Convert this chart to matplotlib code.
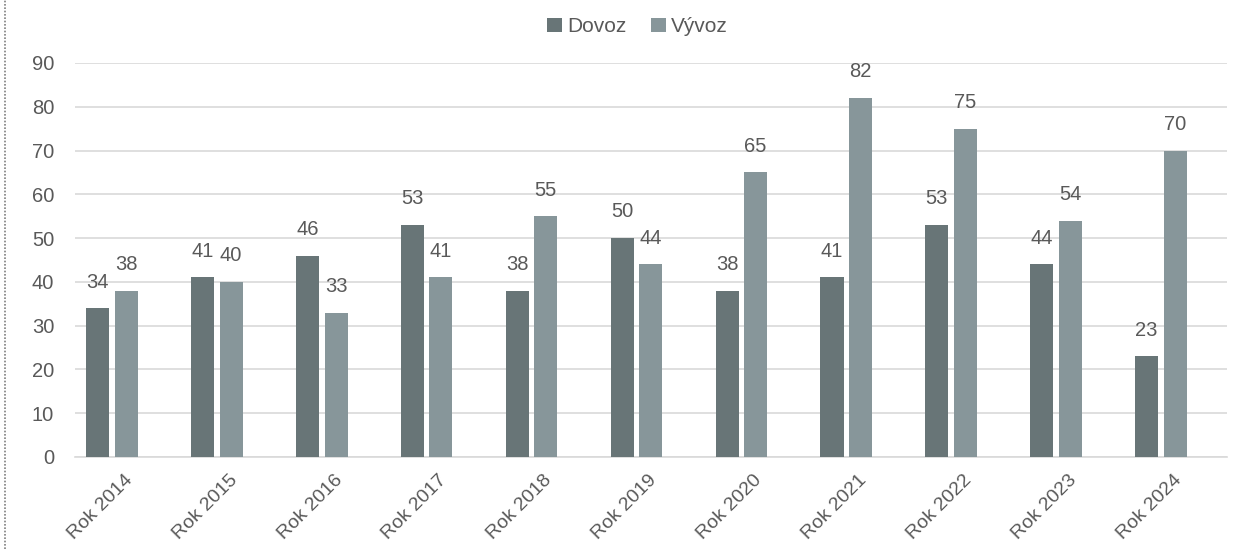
import numpy as np
import matplotlib.pyplot as plt
from matplotlib.lines import Line2D

# data
years = ['Rok 2014', 'Rok 2015', 'Rok 2016', 'Rok 2017', 'Rok 2018', 'Rok 2019',
         'Rok 2020', 'Rok 2021', 'Rok 2022', 'Rok 2023', 'Rok 2024']
dovoz = [34, 41, 46, 53, 38, 50, 38, 41, 53, 44, 23]
vyvoz = [38, 40, 33, 41, 55, 44, 65, 82, 75, 54, 70]

c_dovoz = '#687577'
c_vyvoz = '#87969a'
txt = '#595959'

plt.rcParams['font.family'] = ['Liberation Sans', 'DejaVu Sans']

fig = plt.figure(figsize=(12.5, 5.49), dpi=100)
ax = fig.add_axes([0.06, 0.1676, 0.9216, 0.7177])

x = np.arange(len(years))
w = 0.22
off = 0.136
b1 = ax.bar(x - off, dovoz, w, color=c_dovoz, label='Dovoz', zorder=3)
b2 = ax.bar(x + off, vyvoz, w, color=c_vyvoz, label='Vývoz', zorder=3)

for bars, vals in [(b1, dovoz), (b2, vyvoz)]:
    for b, v in zip(bars, vals):
        ax.text(b.get_x() + b.get_width() / 2, v + 3.8, str(v),
                ha='center', va='bottom', fontsize=14.5, color=txt)

ax.set_ylim(0, 90)
ax.set_xlim(-0.353, len(years) - 1 + 0.63)
ax.set_yticks(range(0, 91, 10))
ax.yaxis.grid(True, color='#d9d9d9', linewidth=1.2, zorder=0)
ax.set_axisbelow(True)
for s in ['top', 'right', 'left']:
    ax.spines[s].set_visible(False)
ax.spines['bottom'].set_color('#d9d9d9')
ax.spines['bottom'].set_linewidth(1.2)
ax.tick_params(axis='both', length=0, labelsize=14.5, colors=txt)
ax.tick_params(axis='y', pad=15)
# category labels sit a little to the right of the bar pairs
ax.set_xticks(x + 0.17)
ax.set_xticklabels(years, rotation=45, ha='right', va='center', rotation_mode='anchor')
ax.tick_params(axis='x', pad=15, labelsize=14)

fig.legend(handles=[b1, b2], loc='center', bbox_to_anchor=(0.51, 0.951), ncol=2,
           frameon=False, fontsize=15, handlelength=0.7, handleheight=0.7,
           handletextpad=0.25, columnspacing=1.2, labelcolor=txt)

# dotted frame edge on the left
fig.add_artist(Line2D([0.004, 0.004], [0, 1], transform=fig.transFigure,
                      color='#7f7f7f', linestyle=(0, (1, 1)), linewidth=1.2))

fig.savefig('out.png', dpi=100)
